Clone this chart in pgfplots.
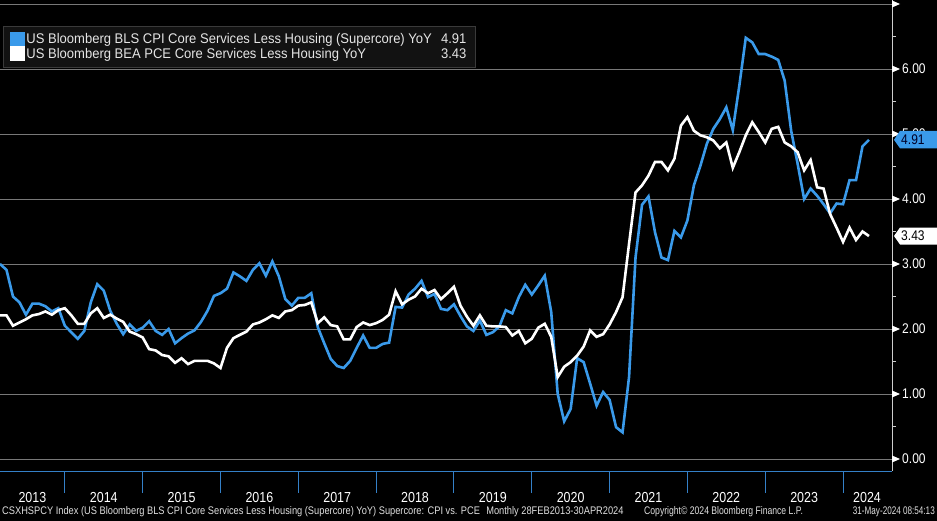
\documentclass[border=0pt]{standalone}
\usepackage{pgfplots}
\pgfplotsset{compat=1.18}
\usepackage{fontspec}
\setmainfont{Liberation Sans}
\newfontfamily\bbg{Liberation Sans}[FakeStretch=0.86]
\newfontfamily\bbgleg{Liberation Sans}[FakeStretch=0.93]
\newfontfamily\bbgfoot{Liberation Sans}[FakeStretch=0.74]

\definecolor{cpiblue}{RGB}{58,154,234}
\definecolor{axisblue}{RGB}{52,128,200}
\definecolor{gridgrey}{RGB}{120,120,120}
\definecolor{axisgrey}{RGB}{205,205,205}
\definecolor{legfill}{RGB}{18,18,18}
\definecolor{legdraw}{RGB}{58,58,58}

% month index: 0 = Feb 2013 ... 134 = Apr 2024
\pgfplotstableread{
n v
0 3.00
1 2.91
2 2.50
3 2.41
4 2.22
5 2.39
6 2.39
7 2.35
8 2.27
9 2.32
10 2.05
11 1.95
12 1.85
13 1.97
14 2.41
15 2.69
16 2.59
17 2.28
18 2.08
19 1.92
20 2.07
21 1.97
22 2.02
23 2.12
24 1.97
25 1.91
26 2.00
27 1.78
28 1.86
29 1.93
30 1.98
31 2.11
32 2.28
33 2.51
34 2.55
35 2.62
36 2.87
37 2.81
38 2.74
39 2.91
40 3.01
41 2.82
42 3.04
43 2.81
44 2.46
45 2.36
46 2.48
47 2.48
48 2.55
49 2.03
50 1.78
51 1.54
52 1.43
53 1.40
54 1.51
55 1.71
56 1.90
57 1.71
58 1.71
59 1.77
60 1.79
61 2.34
62 2.33
63 2.53
64 2.62
65 2.74
66 2.49
67 2.54
68 2.31
69 2.29
70 2.38
71 2.20
72 2.04
73 1.97
74 2.13
75 1.91
76 1.95
77 2.04
78 2.29
79 2.24
80 2.49
81 2.68
82 2.53
83 2.67
84 2.82
85 2.26
86 1.00
87 0.58
88 0.77
89 1.55
90 1.49
91 1.16
92 0.82
93 1.03
94 0.91
95 0.49
96 0.41
97 1.26
98 3.10
99 3.91
100 4.04
101 3.49
102 3.10
103 3.06
104 3.51
105 3.41
106 3.67
107 4.21
108 4.51
109 4.85
110 5.08
111 5.23
112 5.41
113 5.06
114 5.74
115 6.48
116 6.41
117 6.23
118 6.23
119 6.19
120 6.14
121 5.82
122 5.05
123 4.54
124 4.00
125 4.16
126 4.05
127 3.92
128 3.78
129 3.93
130 3.92
131 4.29
132 4.29
133 4.81
134 4.91
}\cpidata

\pgfplotstableread{
n v
0 2.21
1 2.21
2 2.05
3 2.10
4 2.15
5 2.21
6 2.23
7 2.27
8 2.22
9 2.29
10 2.32
11 2.21
12 2.08
13 2.08
14 2.24
15 2.32
16 2.17
17 2.22
18 2.16
19 2.11
20 1.96
21 1.92
22 1.87
23 1.69
24 1.67
25 1.60
26 1.58
27 1.48
28 1.55
29 1.46
30 1.51
31 1.51
32 1.51
33 1.47
34 1.40
35 1.71
36 1.86
37 1.91
38 1.96
39 2.07
40 2.10
41 2.15
42 2.21
43 2.17
44 2.27
45 2.29
46 2.36
47 2.37
48 2.41
49 2.09
50 2.18
51 2.06
52 2.04
53 1.84
54 1.84
55 2.03
56 2.10
57 2.06
58 2.09
59 2.14
60 2.22
61 2.58
62 2.38
63 2.45
64 2.50
65 2.62
66 2.55
67 2.60
68 2.46
69 2.55
70 2.65
71 2.36
72 2.19
73 2.05
74 2.21
75 2.05
76 2.04
77 2.04
78 2.03
79 1.90
80 1.97
81 1.78
82 1.85
83 2.02
84 2.08
85 1.88
86 1.26
87 1.42
88 1.49
89 1.59
90 1.73
91 1.98
92 1.88
93 1.92
94 2.07
95 2.26
96 2.49
97 3.31
98 4.10
99 4.21
100 4.36
101 4.57
102 4.57
103 4.44
104 4.62
105 5.13
106 5.26
107 5.05
108 4.98
109 4.95
110 4.90
111 4.78
112 4.87
113 4.48
114 4.72
115 4.98
116 5.18
117 5.03
118 4.87
119 5.08
120 5.11
121 4.87
122 4.81
123 4.72
124 4.44
125 4.60
126 4.18
127 4.16
128 3.77
129 3.56
130 3.34
131 3.56
132 3.37
133 3.50
134 3.43
}\pcedata

\begin{document}
\begin{tikzpicture}
  \path[use as bounding box, fill=black] (0,0) rectangle (937bp,-521bp);

  \begin{axis}[
    at={(0,0)}, anchor=north west,
    scale only axis, width=892bp, height=471bp,
    xmin=0, xmax=137.55,
    ymin=-0.1846, ymax=7.0615,
    clip mode=individual,
    axis x line*=bottom, axis y line*=right,
    x axis line style={draw=axisblue, line width=1bp},
    y axis line style={draw=axisgrey, line width=1bp},
    xtick={5,16,28,40,52,64,76,88,100,112,124,133.7},
    xticklabels={2013,2014,2015,2016,2017,2018,2019,2020,2021,2022,2023,2024},
    x tick style={draw=none},
    xticklabel style={text=white, font=\bbg\fontsize{14.5bp}{16bp}\selectfont, anchor=base, yshift=-31bp},
    ytick={0,1,2,3,4,5,6,7},
    yticklabels={0.00,1.00,2.00,3.00,4.00,5.00,6.00,{}},
    minor y tick num=1,
    tick align=outside,
    major tick length=0pt, minor tick length=4bp,
    y tick style={draw=axisgrey, line width=0.8bp},
    yticklabel style={text=white, font=\bbg\fontsize{14bp}{16bp}\selectfont, inner sep=0pt, xshift=10bp},
    ymajorgrids, major grid style={draw=gridgrey, line width=0.8bp},
    legend cell align=left,
    legend style={at={(0.0034,0.9448)}, anchor=north west,
      fill=legfill, draw=legdraw, line width=0.6bp, text=white!90!black,
      font=\bbgleg\fontsize{14bp}{16bp}\selectfont,
      inner xsep=7bp, inner ysep=6bp, row sep=-0.5bp,
      nodes={inner sep=1.5bp}},
    legend image code/.code={\fill[#1] (0bp,-6bp) rectangle (12bp,6bp);},
  ]
    \addplot[color=cpiblue, line width=2.6bp] table[x=n, y=v] {\cpidata};
    \addlegendentry{\makebox[440bp][l]{US Bloomberg BLS CPI Core Services Less Housing (Supercore) YoY\hfill 4.91}}
    \addplot[color=white, line width=2.6bp] table[x=n, y=v] {\pcedata};
    \addlegendentry{\makebox[440bp][l]{US Bloomberg BEA PCE Core Services Less Housing YoY\hfill 3.43}}

    % year separators in the date band
    \pgfplotsinvokeforeach{10,22,34,46,58,70,82,94,106,118,130}{
      \draw[axisblue, line width=1bp] (axis cs:#1,-0.1846) -- ++(0,-34bp);
    }
  \end{axis}

  % tick arrows on the right axis
  \foreach \v in {0,...,7} {
    \fill[white] (892bp,{-(459-65*\v)*1bp+3.5bp}) -- ++(8bp,-3.5bp) -- ++(-8bp,-3.5bp) -- cycle;
  }

  % last value tags
  \fill[cpiblue] (894bp,-139.85bp) -- (900bp,-130.8bp) -- (937bp,-130.8bp) -- (937bp,-148.3bp) -- (900bp,-148.3bp) -- cycle;
  \node[anchor=west, inner sep=0pt, text=black!85!blue, font=\bbg\fontsize{14bp}{16bp}\selectfont] at (901bp,-139.85bp) {4.91};
  \fill[white] (894bp,-236bp) -- (900bp,-227.5bp) -- (937bp,-227.5bp) -- (937bp,-244.5bp) -- (900bp,-244.5bp) -- cycle;
  \node[anchor=west, inner sep=0pt, text=black, font=\bbg\fontsize{14bp}{16bp}\selectfont] at (901bp,-236bp) {3.43};

  % footer
  \begin{scope}[every node/.style={inner sep=0pt, text=white!88!black, font=\bbgfoot\fontsize{11bp}{13bp}\selectfont}]
    \node[anchor=base west] at (2bp,-514bp) {\scalebox{1.14}[1]{CSXHSPCY Index (US Bloomberg BLS CPI Core Services Less Housing (Supercore) YoY) Supercore: CPI vs. PCE\enspace Monthly 28FEB2013-30APR2024}};
    \node[anchor=base west] at (644bp,-514bp) {\scalebox{1.06}[1]{Copyright\textcopyright\ 2024 Bloomberg Finance L.P.}};
    \node[anchor=base east] at (935bp,-514bp) {31-May-2024 08:54:13};
  \end{scope}
\end{tikzpicture}
\end{document}
